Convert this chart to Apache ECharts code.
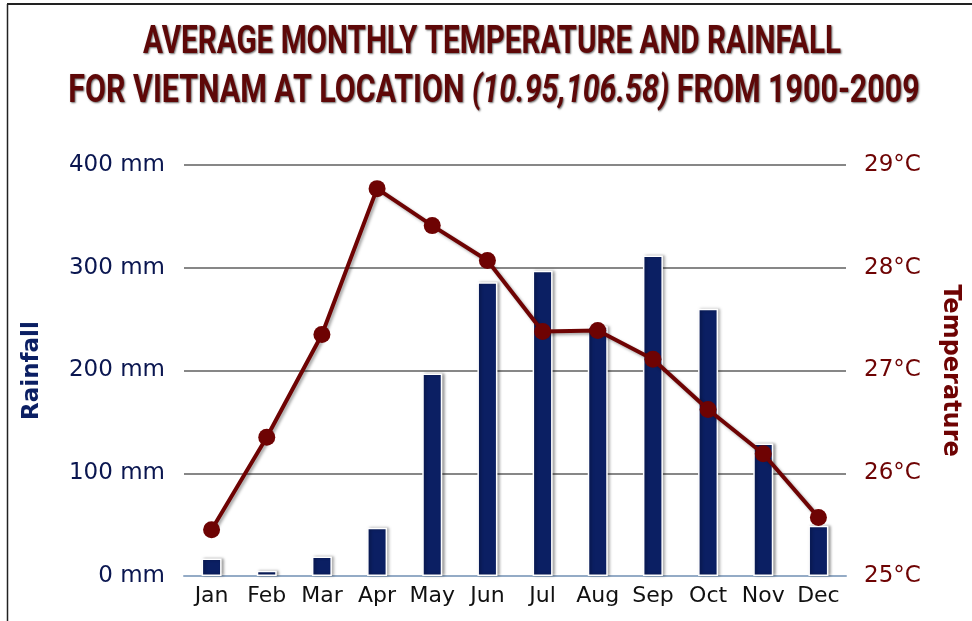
<!DOCTYPE html>
<html lang="en">
<head>
    <meta charset="UTF-8">
    <title>Vietnam temperature and rainfall</title>
    <script src="https://cdn.jsdelivr.net/npm/echarts@6.0.0/dist/echarts.min.js"></script>
    <style>
      html, body { margin: 0; padding: 0; background: #fff; }
    </style>
</head>
<body>
  <div id="chart" style="width:972px; height:621px;"></div>
  <script>
    // data
    var months = ["Jan", "Feb", "Mar", "Apr", "May", "Jun", "Jul", "Aug", "Sep", "Oct", "Nov", "Dec"];
    var rainfall = [17, 5, 19, 47, 197, 286, 297, 243, 312, 260, 129, 49];
    var temperature = [25.45, 26.35, 27.35, 28.77, 28.41, 28.07, 27.38, 27.39, 27.11, 26.62, 26.19, 25.57];
    var rainTicks = [0, 100, 200, 300, 400];
    var tempTicks = [25, 26, 27, 28, 29];

    var navy = "#0b1f63";
    var maroon = "#6e0303";
    var titleRed = "#5e0808";

    // no narrow font installed, so the title is squeezed with scaleX
    var titleShadow = { textShadowColor: "rgba(0,0,0,0.6)", textShadowBlur: 2, textShadowOffsetX: 1, textShadowOffsetY: 1 };

    var myChart = echarts.init(document.getElementById("chart"));

    var option = {
        animation: false,
        graphic: [
            // frame at the top and left of the picture
            { type: "line", shape: { x1: 7, y1: 4, x2: 972, y2: 4 }, style: { stroke: "#222", lineWidth: 2 } },
            { type: "line", shape: { x1: 7.5, y1: 4, x2: 7.5, y2: 621 }, style: { stroke: "#222", lineWidth: 1.5 } },
            {
                type: "text", x: 492, y: 43, scaleX: 0.78,
                style: Object.assign({
                    text: "AVERAGE MONTHLY TEMPERATURE AND RAINFALL",
                    font: "bold 38px Roboto",
                    fill: titleRed, align: "center", verticalAlign: "middle"
                }, titleShadow)
            },
            {
                type: "text", x: 494, y: 92, scaleX: 0.8,
                style: Object.assign({
                    text: "FOR VIETNAM AT LOCATION {i|(10.95,106.58)} FROM 1900-2009",
                    font: "bold 38px Roboto",
                    fill: titleRed, align: "center", verticalAlign: "middle",
                    rich: {
                        i: Object.assign({ font: "italic bold 38px Roboto", fill: titleRed }, titleShadow)
                    }
                }, titleShadow)
            }
        ],
        grid: { left: 184, right: 126, top: 165, bottom: 45 },
        xAxis: {
            type: "category",
            data: months,
            axisLine: { lineStyle: { color: "#94abc6", width: 2 } },
            axisTick: { length: 7, lineStyle: { color: "#94abc6", width: 2 } },
            axisLabel: { interval: 0, color: "#111", fontFamily: "DejaVu Sans", fontSize: 22, margin: 9 }
        },
        yAxis: [
            {
                type: "value",
                min: rainTicks[0], max: rainTicks[rainTicks.length - 1], interval: 100,
                name: "Rainfall", nameLocation: "middle", nameRotate: 90, nameGap: 140,
                nameTextStyle: { color: navy, fontFamily: "DejaVu Sans", fontWeight: "bold", fontSize: 23 },
                axisLine: { show: false }, axisTick: { show: false },
                axisLabel: {
                    color: "#0a1650", fontFamily: "DejaVu Sans", fontSize: 23, margin: 19,
                    formatter: function (v) { return v + " mm"; }
                },
                splitLine: { lineStyle: { color: "#5f5f5f", width: 1.6 } }
            },
            {
                type: "value",
                min: tempTicks[0], max: tempTicks[tempTicks.length - 1], interval: 1,
                name: "Temperature", nameLocation: "middle", nameRotate: -90, nameGap: 92,
                nameTextStyle: { color: maroon, fontFamily: "DejaVu Sans", fontWeight: "bold", fontSize: 24 },
                axisLine: { show: false }, axisTick: { show: false },
                axisLabel: {
                    color: maroon, fontFamily: "DejaVu Sans", fontSize: 23, margin: 18,
                    formatter: function (v) { return v + "°C"; }
                },
                splitLine: { show: false }
            }
        ],
        series: [
            {
                name: "Rainfall",
                type: "bar",
                yAxisIndex: 0,
                data: rainfall,
                barWidth: 20,
                itemStyle: {
                    color: navy,
                    borderColor: "#ffffff",
                    borderWidth: 1.5,
                    shadowColor: "rgba(0,0,0,0.35)",
                    shadowBlur: 3,
                    shadowOffsetX: 2,
                    shadowOffsetY: 0
                }
            },
            {
                name: "Temperature",
                type: "line",
                yAxisIndex: 1,
                data: temperature,
                symbol: "circle",
                symbolSize: 17,
                lineStyle: {
                    color: maroon, width: 4,
                    shadowColor: "rgba(0,0,0,0.35)", shadowBlur: 3, shadowOffsetX: 2, shadowOffsetY: 2
                },
                itemStyle: { color: maroon }
            }
        ]
    };

    myChart.setOption(option);
  </script>
</body>
</html>
